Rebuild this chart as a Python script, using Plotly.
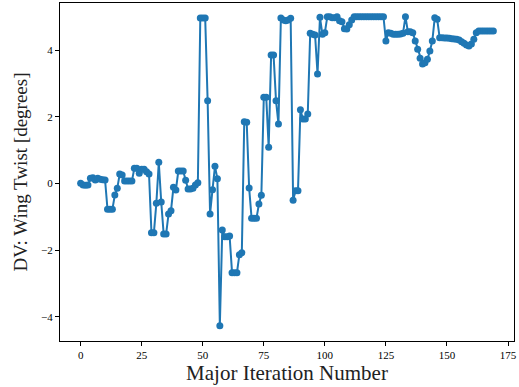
import plotly.graph_objects as go

iterations = list(range(170))
wing_twist = [
    0.00, -0.05, -0.06, -0.05, 0.15, 0.17, 0.10, 0.15, 0.12, 0.11,
    0.10, -0.78, -0.78, -0.78, -0.35, -0.15, 0.28, 0.25, 0.07, 0.07,
    0.07, 0.07, 0.45, 0.45, 0.30, 0.42, 0.42, 0.35, 0.28, -1.48,
    -1.48, -0.60, 0.63, -0.56, -1.52, -1.52, -0.92, -0.82, -0.12, -0.20,
    0.37, 0.37, 0.37, 0.09, -0.17, -0.17, -0.15, -0.05, 0.02, 4.96,
    4.96, 4.96, 2.48, -0.92, -0.19, 0.51, 0.14, -4.27, -1.40, -1.60,
    -1.60, -1.58, -2.68, -2.68, -2.68, -2.14, -2.08, 1.85, 1.83, -0.14,
    -1.05, -1.05, -1.05, -0.62, -0.36, 2.58, 2.58, 1.08, 3.85, 3.85,
    2.48, 1.78, 4.96, 4.90, 4.88, 4.90, 4.95, -0.51, -0.22, -0.22,
    2.21, 1.93, 1.93, 2.08, 4.50, 4.47, 4.45, 3.28, 4.98, 4.47,
    4.52, 5.00, 5.00, 4.97, 4.97, 5.00, 4.88, 4.85, 4.64, 4.63,
    4.76, 4.90, 5.00, 5.00, 5.00, 5.00, 5.00, 5.00, 5.00, 5.00,
    5.00, 5.00, 5.00, 5.00, 5.00, 4.27, 4.52, 4.50, 4.47, 4.47,
    4.47, 4.48, 4.50, 5.00, 4.55, 4.55, 4.52, 4.27, 4.02, 3.75,
    3.58, 3.62, 3.72, 3.97, 4.27, 4.97, 4.92, 4.37, 4.37, 4.36,
    4.36, 4.35, 4.34, 4.33, 4.32, 4.30, 4.25, 4.20, 4.15, 4.12,
    4.18, 4.32, 4.52, 4.57, 4.57, 4.57, 4.57, 4.57, 4.57, 4.57,
]

x_ticks = [0, 25, 50, 75, 100, 125, 150, 175]
y_ticks = [-4, -2, 0, 2, 4]

serif = "Liberation Serif, DejaVu Serif, serif"

fig = go.Figure(go.Scatter(
    x=iterations, y=wing_twist, mode="lines+markers",
    line=dict(color="#1f77b4", width=2),
    marker=dict(color="#1f77b4", size=7),
    showlegend=False,
))

axis_common = dict(
    showline=True, linecolor="#000000", linewidth=1, mirror=True,
    ticks="outside", ticklen=4, tickwidth=1, tickcolor="#000000",
    showgrid=False, zeroline=False, ticklabeloverflow="allow",
    tickfont=dict(family=serif, size=11, color="#000000"),
)

fig.update_layout(
    width=519, height=387,
    margin=dict(l=60, r=2, t=2, b=46),
    paper_bgcolor="white", plot_bgcolor="white",
    xaxis=dict(range=[-8.45, 177.45], tickvals=x_ticks,
               title=dict(text="Major Iteration Number",
                          font=dict(family=serif, size=21, color="#222"), standoff=3),
               **axis_common),
    yaxis=dict(range=[-4.73, 5.41], tickvals=y_ticks,
               title=dict(text="DV: Wing Twist [degrees]",
                          font=dict(family=serif, size=19, color="#222"), standoff=8),
               **axis_common),
)

fig.write_html("out.html")
